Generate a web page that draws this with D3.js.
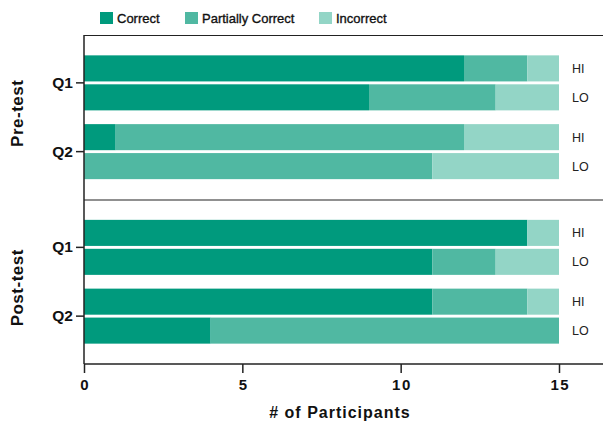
<!DOCTYPE html>
<html><head><meta charset="utf-8">
<script src="https://cdn.jsdelivr.net/npm/d3@7"></script>
<style>body{margin:0;background:#fff}svg{display:block}text{font-family:"Liberation Sans",Arial,sans-serif}</style>
</head><body><svg id="c" width="603" height="422"></svg>
<script>
const phases = ["Pre-test", "Post-test"];
const questions = ["Q1", "Q2"];
const groups = ["HI", "LO"];
const categories = ["Correct", "Partially Correct", "Incorrect"];
const colors = ["#009a7d", "#50b8a2", "#93d5c6"];
const xTicks = [0, 5, 10, 15];
// values per [phase][question][group] : Correct, Partial, Incorrect
const preQ1HI = [12, 2, 1];
const preQ1LO = [9, 4, 2];
const preQ2HI = [1, 11, 3];
const preQ2LO = [0, 11, 4];
const postQ1HI = [14, 0, 1];
const postQ1LO = [11, 2, 2];
const postQ2HI = [11, 3, 1];
const postQ2LO = [4, 11, 0];

const rows = [
  {phase:"Pre-test", q:"Q1", g:"HI", v:preQ1HI},
  {phase:"Pre-test", q:"Q1", g:"LO", v:preQ1LO},
  {phase:"Pre-test", q:"Q2", g:"HI", v:preQ2HI},
  {phase:"Pre-test", q:"Q2", g:"LO", v:preQ2LO},
  {phase:"Post-test", q:"Q1", g:"HI", v:postQ1HI},
  {phase:"Post-test", q:"Q1", g:"LO", v:postQ1LO},
  {phase:"Post-test", q:"Q2", g:"HI", v:postQ2HI},
  {phase:"Post-test", q:"Q2", g:"LO", v:postQ2LO}
];

(function(){
const svg = d3.select("#c");
const mLeft = 84, mRight = 603, mTop = 35, mBottom = 364;
const x = d3.scaleLinear().domain([0, 15]).range([mLeft, 559]);
const yPhase = d3.scaleBand().domain(phases).range([mTop, mBottom]).paddingInner(0).paddingOuter(0);
const yQ = d3.scaleBand().domain(questions).range([0, yPhase.bandwidth()]).paddingInner(0.2).paddingOuter(0.296);
const yG = d3.scaleBand().domain(groups).range([0, yQ.bandwidth()]).paddingInner(0.1);

// bars
rows.forEach(r => {
  const y0 = yPhase(r.phase) + yQ(r.q) + yG(r.g);
  let acc = 0;
  r.v.forEach((val, i) => {
    if (val > 0) {
      svg.append("rect")
        .attr("x", x(acc)).attr("width", x(acc + val) - x(acc))
        .attr("y", y0).attr("height", yG.bandwidth())
        .attr("fill", colors[i]);
    }
    acc += val;
  });
  svg.append("text").attr("x", 572).attr("y", y0 + yG.bandwidth()/2 + 4.5)
    .attr("font-size", 12.5).attr("fill", "#222").text(r.g);
});

// panel lines
phases.forEach(p => {
  svg.append("line").attr("x1", mLeft).attr("x2", mRight)
    .attr("y1", yPhase(p) + 0.5).attr("y2", yPhase(p) + 0.5)
    .attr("stroke", "#222").attr("stroke-width", 1.2);
});
svg.append("line").attr("x1", mLeft).attr("x2", mLeft).attr("y1", mTop).attr("y2", mBottom)
  .attr("stroke", "#222").attr("stroke-width", 1.5);

// x axis
const xAxis = svg.append("g").attr("transform", `translate(0,${mBottom})`)
  .call(d3.axisBottom(x).tickValues(xTicks).tickSize(9).tickPadding(6).tickSizeOuter(0));
xAxis.select(".domain").remove();
xAxis.append("line").attr("x1", mLeft).attr("x2", mRight).attr("stroke", "#222").attr("stroke-width", 1.5);
xAxis.selectAll(".tick line").attr("stroke", "#222").attr("stroke-width", 1.5);
xAxis.selectAll(".tick text").attr("font-size", 15).attr("font-weight", "bold")
  .attr("letter-spacing", 1.5).attr("dx", 0.75)
  .attr("fill", "#111").style("font-family", '"Liberation Sans",Arial,sans-serif');

svg.append("text").attr("x", 340).attr("y", 418).attr("text-anchor", "middle")
  .attr("font-size", 16).attr("font-weight", "bold").attr("letter-spacing", 1).attr("fill", "#111")
  .text("# of Participants");

// y: question ticks and labels
phases.forEach((p, pi) => {
  questions.forEach(q => {
    const yc = yPhase(p) + yQ(q) + yQ.bandwidth()/2;
    svg.append("line").attr("x1", 76).attr("x2", mLeft).attr("y1", yc).attr("y2", yc)
      .attr("stroke", "#222").attr("stroke-width", 1.5);
    svg.append("text").attr("x", 73).attr("y", yc + 5).attr("text-anchor", "end")
      .attr("font-size", 15.5).attr("font-weight", "bold").attr("fill", "#111").text(q);
  });
  const cy = yPhase(p) + yPhase.bandwidth()/2 + (pi === 0 ? -4 : 6);
  svg.append("text").attr("transform", `translate(23,${cy}) rotate(-90)`)
    .attr("text-anchor", "middle").attr("font-size", 17).attr("font-weight", "bold")
    .attr("letter-spacing", 0.5).attr("fill", "#111").text(p);
});

// legend
const legX = [100, 185, 319];
categories.forEach((c, i) => {
  svg.append("rect").attr("x", legX[i]).attr("y", 12).attr("width", 13).attr("height", 12).attr("fill", colors[i]);
  svg.append("text").attr("x", legX[i] + 17).attr("y", 23).attr("font-size", 13)
    .attr("fill", "#111").attr("stroke", "#111").attr("stroke-width", 0.35).text(c);
});
})();
</script></body></html>
